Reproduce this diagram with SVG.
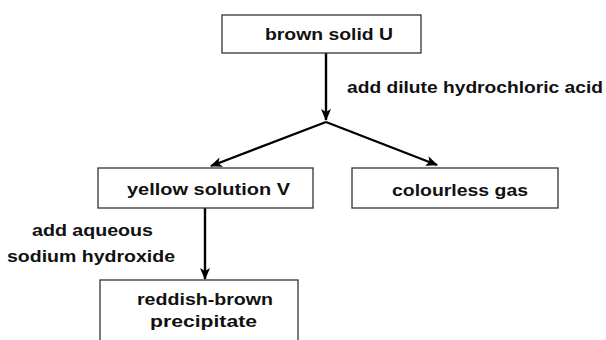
<svg xmlns="http://www.w3.org/2000/svg" width="606" height="340" viewBox="0 0 606 340">
<style>
.box{fill:#fff;stroke:#333;stroke-width:1.3}
.t{font-family:"Liberation Sans",Arial,sans-serif;font-size:17px;font-weight:bold;fill:#111}
.c{stroke:#000;stroke-width:2.4;fill:none}
</style>
<defs>
<marker id="ah" viewBox="0 0 12 12" refX="11" refY="6" markerWidth="12" markerHeight="12" orient="auto" markerUnits="userSpaceOnUse">
<path d="M0,1 L12,6 L0,11 L3,6 z" fill="#000"/>
</marker>
</defs>
<rect width="606" height="340" fill="#fff"/>
<g id="connectors">
<line class="c" x1="326" y1="53" x2="326" y2="120" marker-end="url(#ah)"/>
<line class="c" x1="326" y1="122" x2="211" y2="166" marker-end="url(#ah)"/>
<line class="c" x1="326" y1="122" x2="437" y2="165" marker-end="url(#ah)"/>
<line class="c" x1="205" y1="208" x2="205" y2="279" marker-end="url(#ah)"/>
<text class="t" x="347" y="93" textLength="256" lengthAdjust="spacingAndGlyphs">add dilute hydrochloric acid</text>
<text class="t" x="32" y="236" textLength="121" lengthAdjust="spacingAndGlyphs">add aqueous</text>
<text class="t" x="7" y="262" textLength="168" lengthAdjust="spacingAndGlyphs">sodium hydroxide</text>
</g>
<g id="brown-solid">
<rect class="box" x="222" y="15" width="199" height="38"/>
<text class="t" x="265" y="40" textLength="128" lengthAdjust="spacingAndGlyphs">brown solid U</text>
</g>
<g id="yellow-solution">
<rect class="box" x="98" y="168" width="215" height="40"/>
<text class="t" x="127" y="195" textLength="163" lengthAdjust="spacingAndGlyphs">yellow solution V</text>
</g>
<g id="colourless-gas">
<rect class="box" x="352" y="168" width="206" height="40"/>
<text class="t" x="392" y="196" textLength="136" lengthAdjust="spacingAndGlyphs">colourless gas</text>
</g>
<g id="precipitate">
<rect class="box" x="100" y="280" width="198" height="70"/>
<text class="t" x="137" y="305" textLength="136" lengthAdjust="spacingAndGlyphs">reddish-brown</text>
<text class="t" x="150" y="327" textLength="107" lengthAdjust="spacingAndGlyphs">precipitate</text>
</g>
</svg>
